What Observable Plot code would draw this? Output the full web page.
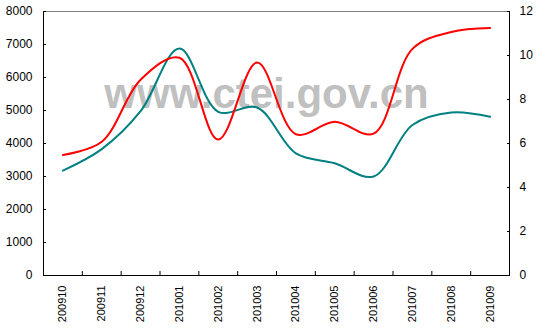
<!DOCTYPE html>
<html>
<head>
<meta charset="utf-8">
<script src="https://cdn.jsdelivr.net/npm/d3@7"></script>
<script src="https://cdn.jsdelivr.net/npm/@observablehq/plot@0.6"></script>
<style>
  html, body { margin: 0; padding: 0; background: #fff; }
  #chart svg { display: block; }
</style>
</head>
<body>
<div id="chart"></div>
<script>
// Categories (months)
const months = ["200910","200911","200912","201001","201002","201003","201004","201005","201006","201007","201008","201009"];
// Teal series (left axis)
const tealValues = [3180, 3830, 4980, 6880, 4960, 5090, 3700, 3400, 3000, 4560, 4940, 4810];
// Red series (right axis)
const redValues = [5.48, 6.08, 8.9, 9.9, 6.18, 9.68, 6.42, 6.99, 6.45, 10.3, 11.07, 11.25];
// Tick labels
const leftTicks = [0, 1000, 2000, 3000, 4000, 5000, 6000, 7000, 8000];
const rightTicks = [0, 2, 4, 6, 8, 10, 12];
const watermark = ["www.ctei.gov.cn"];

const ratio = 8000 / 12;
const idx = months.map((m, i) => i);
const boundaries = d3.range(0, months.length + 1).map(i => i - 0.5);
const teal = months.map((m, i) => ({i, v: tealValues[i]}));
const red = months.map((m, i) => ({i, v: redValues[i] * ratio}));
const font = "'Liberation Sans', Arial, sans-serif";

const chart = Plot.plot({
  width: 537,
  height: 329,
  marginLeft: 43,
  marginRight: 28,
  marginTop: 11,
  marginBottom: 54,
  style: {fontFamily: font, fontSize: "11px", color: "#000", background: "#fff"},
  x: {type: "linear", domain: [-0.5, months.length - 0.5]},
  y: {domain: [0, 8000]},
  marks: [
    Plot.text(watermark, {frameAnchor: "top", dx: -10, dy: 67, fontSize: 42, fontWeight: "bold", fill: "#c0c0c0", fontFamily: font}),
    Plot.ruleY([8000], {stroke: "#808080"}),
    Plot.ruleY([0], {stroke: "#000"}),
    Plot.ruleX([boundaries[0], boundaries[boundaries.length - 1]], {stroke: "#000"}),
    Plot.axisX(boundaries, {tickSize: -4, tickFormat: () => "", stroke: "#000", label: null}),
    Plot.axisX(idx, {tickSize: 0, tickPadding: 10, tickRotate: -90, tickFormat: i => months[i], textAnchor: "end", fontSize: 11, label: null}),
    Plot.axisY(leftTicks, {anchor: "left", tickSize: -3, tickPadding: 14, fontSize: 12, label: null, tickFormat: d => String(d)}),
    Plot.axisY(rightTicks.map(d => d * ratio), {anchor: "right", tickSize: -3, tickPadding: 13, fontSize: 12, label: null, tickFormat: d => String(Math.round(d / ratio))}),
    Plot.line(teal, {x: "i", y: "v", curve: "catmull-rom", stroke: "#008080", strokeWidth: 2}),
    Plot.line(red, {x: "i", y: "v", curve: "catmull-rom", stroke: "#ff0000", strokeWidth: 2})
  ]
});
document.getElementById("chart").appendChild(chart);
</script>
</body>
</html>
